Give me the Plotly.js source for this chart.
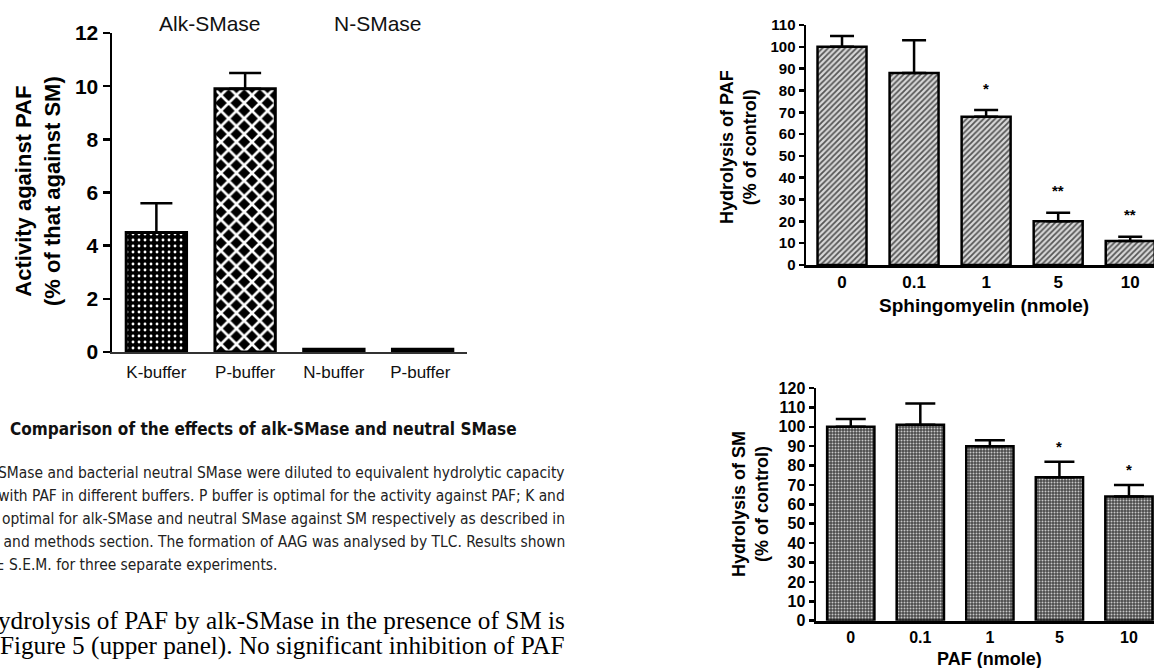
<!DOCTYPE html>
<html>
<head>
<meta charset="utf-8">
<script src="https://cdn.plot.ly/plotly-3.0.1.min.js"></script>
<style>
html,body{margin:0;padding:0;background:#fff;}
#chart{width:1154px;height:668px;}
</style>
</head>
<body>
<div id="chart"></div>
<script>
// ---------- Data: left panel (activity against PAF) ----------
const bufferLabels = ['K-buffer', 'P-buffer', 'N-buffer', 'P-buffer '];
const activityValues = [4.5, 9.9, 0.1, 0.1];
const activityErrors = [1.1, 0.6, 0, 0];
const enzymeGroups = ['Alk-SMase', 'N-SMase'];

// ---------- Data: upper right panel (PAF hydrolysis vs sphingomyelin) ----------
const smAmounts = ['0', '0.1', '1', '5', '10'];
const pafHydrolysis = [100, 88, 68, 20, 11];
const pafHydrolysisErr = [5, 15, 3, 4, 2];
const pafSignif = ['', '', '*', '**', '**'];

// ---------- Data: lower right panel (SM hydrolysis vs PAF) ----------
const pafAmounts = ['0', '0.1', '1', '5', '10'];
const smHydrolysis = [100, 101, 90, 74, 64];
const smHydrolysisErr = [4, 11, 3, 8, 6];
const smSignif = ['', '', '', '*', '*'];

// ---------- Caption and body text ----------
const captionTitle = 'Comparison of the effects of alk-SMase and neutral SMase';
const captionLines = [
  'SMase and bacterial neutral SMase were diluted to equivalent hydrolytic capacity',
  'd with PAF in different buffers. P buffer is optimal for the activity against PAF; K and',
  'e optimal for alk-SMase and neutral SMase against SM respectively as described in',
  's and methods section. The formation of AAG was analysed by TLC. Results shown'
];
const captionLast = '\u00b1 S.E.M. for three separate experiments.';
const bodyLines = [
  'ydrolysis of PAF by alk-SMase in the presence of SM is',
  'n Figure 5 (upper panel). No significant inhibition of PAF'
];

// ---------- helpers ----------
const W = 1154, H = 668;
const px = x => x / W;
const py = y => 1 - y / H;

const SANS = 'Liberation Sans, Arial, sans-serif';
const NARROW = "'Liberation Sans Narrow', 'DejaVu Sans Condensed', 'Roboto Condensed', 'Liberation Sans', sans-serif";
const SERIF = "'Liberation Serif', 'Times New Roman', serif";

function textWidth(text, family, size, weight) {
  const s = document.createElement('span');
  s.style.position = 'absolute';
  s.style.visibility = 'hidden';
  s.style.whiteSpace = 'pre';
  s.style.fontFamily = family;
  s.style.fontSize = size + 'px';
  s.style.fontWeight = weight || 'normal';
  s.textContent = text;
  document.body.appendChild(s);
  const w = s.getBoundingClientRect().width;
  s.remove();
  return w;
}
function fitSize(text, family, weight, target) {
  return 20 * target / textWidth(text, family, 20, weight);
}

// font sizes chosen so the text spans the same width as in the page
const capTitleSize = fitSize(captionTitle, NARROW, 'bold', 507);
const capSize = fitSize(captionLines[0], NARROW, 'normal', 567);
const bodySize = fitSize(bodyLines[0], SERIF, 'normal', 567);

const traces = [
  {
    type: 'bar', x: bufferLabels, y: activityValues, xaxis: 'x', yaxis: 'y',
    width: 0.68,
    marker: {
      color: '#000',
      line: {color: '#000', width: 3},
      pattern: {
        shape: ['.', 'x', '', ''],
        bgcolor: '#000',
        fgcolor: '#fff',
        size: [6, 11, 8, 8],
        solidity: [0.18, 0.42, 0.3, 0.3],
        fillmode: 'replace'
      }
    },
    error_y: {type: 'data', symmetric: false, array: activityErrors,
      arrayminus: activityErrors.map(() => 0), color: '#000', thickness: 2.5, width: 16},
    hoverinfo: 'x+y'
  },
  {
    type: 'bar', x: smAmounts, y: pafHydrolysis, xaxis: 'x2', yaxis: 'y2',
    width: 0.68,
    marker: {
      color: '#999',
      line: {color: '#000', width: 2.5},
      pattern: {shape: '/', bgcolor: '#d8d8d8', fgcolor: '#555', size: 4, solidity: 0.45, fillmode: 'replace'}
    },
    error_y: {type: 'data', symmetric: false, array: pafHydrolysisErr,
      arrayminus: pafHydrolysisErr.map(() => 0), color: '#000', thickness: 2.5, width: 12},
    hoverinfo: 'x+y'
  },
  {
    type: 'bar', x: pafAmounts, y: smHydrolysis, xaxis: 'x3', yaxis: 'y3',
    width: 0.68,
    marker: {
      color: '#666',
      line: {color: '#000', width: 2.5},
      pattern: {shape: '.', bgcolor: '#4a4a4a', fgcolor: '#c8c8c8', size: 3, solidity: 0.35, fillmode: 'replace'}
    },
    error_y: {type: 'data', symmetric: false, array: smHydrolysisErr,
      arrayminus: smHydrolysisErr.map(() => 0), color: '#000', thickness: 2.5, width: 15},
    hoverinfo: 'x+y'
  }
];

const annotations = [];
const note = (o) => annotations.push(Object.assign({showarrow: false, xanchor: 'center', yanchor: 'middle'}, o));

// group labels on left panel
note({xref: 'x', yref: 'paper', x: 0.6, y: py(24), text: enzymeGroups[0],
  font: {family: SANS, size: 21, color: '#111'}});
note({xref: 'x', yref: 'paper', x: 2.5, y: py(24), text: enzymeGroups[1],
  font: {family: SANS, size: 21, color: '#111'}});

// y titles
note({xref: 'paper', yref: 'paper', x: px(38), y: py(191),
  text: 'Activity against PAF<br>(% of that against SM)', textangle: -90,
  font: {family: SANS, size: 22, weight: 'bold', color: '#000'}});
note({xref: 'paper', yref: 'paper', x: px(738), y: py(147),
  text: 'Hydrolysis of PAF<br>(% of control)', textangle: -90,
  font: {family: SANS, size: 18, weight: 'bold', color: '#000'}});
note({xref: 'paper', yref: 'paper', x: px(751), y: py(504),
  text: 'Hydrolysis of SM<br>(% of control)', textangle: -90,
  font: {family: SANS, size: 18, weight: 'bold', color: '#000'}});

// x titles
note({xref: 'paper', yref: 'paper', x: px(984), y: py(305), text: 'Sphingomyelin (nmole)',
  font: {family: SANS, size: 19, weight: 'bold', color: '#000'}});
note({xref: 'paper', yref: 'paper', x: px(989), y: py(659), text: 'PAF (nmole)',
  font: {family: SANS, size: 18, weight: 'bold', color: '#000'}});

// significance marks (x given as category index)
pafSignif.forEach((s, i) => {
  if (s) note({xref: 'x2', yref: 'y2', x: i, y: pafHydrolysis[i] + pafHydrolysisErr[i],
    yshift: 22, text: s, font: {family: SANS, size: 15, weight: 'bold', color: '#000'}});
});
smSignif.forEach((s, i) => {
  if (s) note({xref: 'x3', yref: 'y3', x: i, y: smHydrolysis[i] + smHydrolysisErr[i],
    yshift: 15, text: s, font: {family: SANS, size: 15, weight: 'bold', color: '#000'}});
});

// caption
note({xref: 'paper', yref: 'paper', x: px(8), y: py(429), xanchor: 'left',
  text: captionTitle, font: {family: NARROW, size: capTitleSize, weight: 'bold', color: '#111'}});
const capY = [473, 496, 519, 542];
captionLines.forEach((t, i) => note({xref: 'paper', yref: 'paper', x: px(567), y: py(capY[i]),
  xanchor: 'right', text: t, font: {family: NARROW, size: capSize, color: '#222'}}));
const pmW = textWidth('\u00b1', NARROW, capSize, 'normal');
note({xref: 'paper', yref: 'paper', x: px(3 - pmW), y: py(565), xanchor: 'left',
  text: captionLast, font: {family: NARROW, size: capSize, color: '#222'}});
const bodyY = [620, 646];
bodyLines.forEach((t, i) => note({xref: 'paper', yref: 'paper', x: px(567), y: py(bodyY[i]),
  xanchor: 'right', text: t, font: {family: SERIF, size: bodySize, color: '#000'}}));

const bold = (size) => ({family: SANS, size: size, weight: 'bold', color: '#000'});

const layout = {
  width: W, height: H,
  margin: {l: 0, r: 0, t: 0, b: 0},
  paper_bgcolor: '#fff', plot_bgcolor: 'rgba(0,0,0,0)',
  showlegend: false,
  xaxis: {domain: [px(112), px(467)], anchor: 'y', type: 'category', range: [-0.5, 3.5],
    showline: true, linecolor: '#333', linewidth: 1.5, ticks: '', showgrid: false, zeroline: false,
    tickfont: {family: SANS, size: 17, color: '#111'}, ticklabelstandoff: 4},
  yaxis: {domain: [py(352), py(33)], anchor: 'x', range: [0, 12], dtick: 2,
    showline: true, linecolor: '#000', linewidth: 2.5, ticks: 'outside', ticklen: 7, tickwidth: 2.5,
    tickcolor: '#000', showgrid: false, zeroline: false, tickfont: bold(21)},
  xaxis2: {domain: [px(806), 1], anchor: 'y2', type: 'category', range: [-0.5, 4.33],
    showline: true, linecolor: '#000', linewidth: 3, ticks: '', showgrid: false, zeroline: false,
    tickfont: bold(17), ticklabelstandoff: 0},
  yaxis2: {domain: [py(265), py(25)], anchor: 'x2', range: [0, 110], dtick: 10,
    showline: true, linecolor: '#000', linewidth: 2.5, ticks: 'outside', ticklen: 5, tickwidth: 2.5,
    tickcolor: '#000', showgrid: false, zeroline: false, tickfont: bold(15), ticklabelstandoff: 0},
  xaxis3: {domain: [px(816), 1], anchor: 'y3', type: 'category', range: [-0.5, 4.36],
    showline: true, linecolor: '#000', linewidth: 3, ticks: '', showgrid: false, zeroline: false,
    tickfont: bold(16), ticklabelstandoff: 0},
  yaxis3: {domain: [py(620.7), py(388)], anchor: 'x3', range: [0, 120], dtick: 10,
    showline: true, linecolor: '#000', linewidth: 2.5, ticks: 'outside', ticklen: 5, tickwidth: 2.5,
    tickcolor: '#000', showgrid: false, zeroline: false, tickfont: bold(16), ticklabelstandoff: 0},
  annotations: annotations
};

Plotly.newPlot('chart', traces, layout, {staticPlot: true, displayModeBar: false});
</script>
</body>
</html>
